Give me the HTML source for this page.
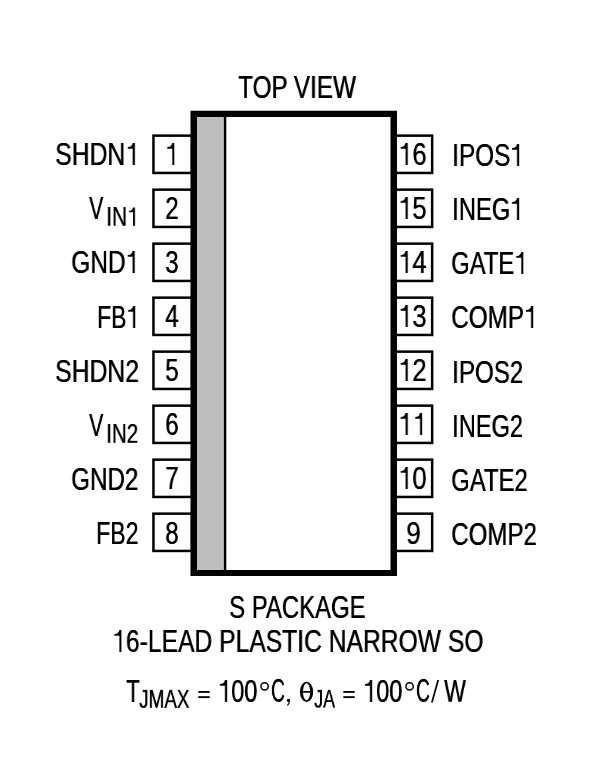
<!DOCTYPE html>
<html><head><meta charset="utf-8"><style>
html,body{margin:0;padding:0;background:#fff;width:602px;height:767px;overflow:hidden;position:relative}
.t{position:absolute;font-family:"Liberation Sans",sans-serif;line-height:1;white-space:nowrap;color:#000;transform-origin:0 0;will-change:transform;text-shadow:0.55px 0 0 #000}
svg.bg{position:absolute;left:0;top:0}
.one{position:relative;color:transparent;text-shadow:none}.one svg{position:absolute;left:0;top:0;width:0.556em;height:1.117em;fill:#000;overflow:visible;transform-origin:61.15% 0;transform:scaleX(var(--k,1))}
</style></head><body>
<svg class="bg" width="602" height="767" viewBox="0 0 602 767">
<rect x="197" y="117" width="27" height="453" fill="#bebebe"/>
<rect x="223.9" y="117" width="2.4" height="453" fill="#000"/>
<path fill="#000" fill-rule="evenodd" d="M190.5,110.8 H397 V576.1 H190.5 Z M197,117 V570 H390.5 V117 Z"/>
<rect x="153.45" y="135.65" width="38.55" height="37.30" fill="none" stroke="#000" stroke-width="2.5"/>
<rect x="395.00" y="135.65" width="37.15" height="37.30" fill="none" stroke="#000" stroke-width="2.5"/>
<rect x="153.45" y="189.65" width="38.55" height="37.30" fill="none" stroke="#000" stroke-width="2.5"/>
<rect x="395.00" y="189.65" width="37.15" height="37.30" fill="none" stroke="#000" stroke-width="2.5"/>
<rect x="153.45" y="243.65" width="38.55" height="37.30" fill="none" stroke="#000" stroke-width="2.5"/>
<rect x="395.00" y="243.65" width="37.15" height="37.30" fill="none" stroke="#000" stroke-width="2.5"/>
<rect x="153.45" y="297.65" width="38.55" height="37.30" fill="none" stroke="#000" stroke-width="2.5"/>
<rect x="395.00" y="297.65" width="37.15" height="37.30" fill="none" stroke="#000" stroke-width="2.5"/>
<rect x="153.45" y="351.65" width="38.55" height="37.30" fill="none" stroke="#000" stroke-width="2.5"/>
<rect x="395.00" y="351.65" width="37.15" height="37.30" fill="none" stroke="#000" stroke-width="2.5"/>
<rect x="153.45" y="405.65" width="38.55" height="37.30" fill="none" stroke="#000" stroke-width="2.5"/>
<rect x="395.00" y="405.65" width="37.15" height="37.30" fill="none" stroke="#000" stroke-width="2.5"/>
<rect x="153.45" y="459.65" width="38.55" height="37.30" fill="none" stroke="#000" stroke-width="2.5"/>
<rect x="395.00" y="459.65" width="37.15" height="37.30" fill="none" stroke="#000" stroke-width="2.5"/>
<rect x="153.45" y="513.65" width="38.55" height="37.30" fill="none" stroke="#000" stroke-width="2.5"/>
<rect x="395.00" y="513.65" width="37.15" height="37.30" fill="none" stroke="#000" stroke-width="2.5"/>
<circle cx="264.6" cy="686.3" r="3.65" fill="none" stroke="#000" stroke-width="1.5"/>
<circle cx="409.6" cy="686.3" r="3.65" fill="none" stroke="#000" stroke-width="1.5"/>
<rect x="198.3" y="691" width="11.4" height="1.85" fill="#000"/>
<rect x="198.3" y="696.2" width="11.4" height="1.85" fill="#000"/>
<rect x="343.3" y="691" width="11.4" height="1.85" fill="#000"/>
<rect x="343.3" y="696.2" width="11.4" height="1.85" fill="#000"/>
<path d="M437.3,680 L439.1,680 L432.8,702.5 L431.0,702.5 Z" fill="#000"/>
<path d="M287.1,699 L289.9,699 L289.9,701.8 Q289.7,704.4 287.7,705.9 L287.0,705.1 Q288.5,703.8 288.7,701.8 L287.1,701.8 Z" fill="#000"/>
<path fill-rule="evenodd" fill="#000" d="M306.55,681.65 A6.65,10.18 0 1,1 306.55,702.01 A6.65,10.18 0 1,1 306.55,681.65 Z M306.55,683.35 A3.6,8.48 0 1,0 306.55,700.31 A3.6,8.48 0 1,0 306.55,683.35 Z"/>
<rect x="302.9" y="691" width="7.3" height="1.7" fill="#000"/>
</svg>
<div class="t" style="left:54.80px;top:137.70px;font-size:32px;transform:scale(0.7733,1.0000);--k:0.9828">SHDN<span class="one">1<svg viewBox="0 0 556 1117" preserveAspectRatio="none"><path d="M95,341 L165,338 Q265,320 296,218 L384,218 L384,905 L296,905 L296,397 L95,397 Z"/></svg></span></div>
<div class="t" style="left:70.92px;top:245.70px;font-size:32px;transform:scale(0.7654,1.0000);--k:0.9929">GND<span class="one">1<svg viewBox="0 0 556 1117" preserveAspectRatio="none"><path d="M95,341 L165,338 Q265,320 296,218 L384,218 L384,905 L296,905 L296,397 L95,397 Z"/></svg></span></div>
<div class="t" style="left:96.61px;top:300.70px;font-size:32px;transform:scale(0.7140,1.0000);--k:1.0644">FB<span class="one">1<svg viewBox="0 0 556 1117" preserveAspectRatio="none"><path d="M95,341 L165,338 Q265,320 296,218 L384,218 L384,905 L296,905 L296,397 L95,397 Z"/></svg></span></div>
<div class="t" style="left:54.81px;top:354.70px;font-size:32px;transform:scale(0.7724,1.0000);--k:0.9840">SHDN2</div>
<div class="t" style="left:71.04px;top:462.60px;font-size:32px;transform:scale(0.7547,1.0000);--k:1.0071">GND2</div>
<div class="t" style="left:95.89px;top:516.70px;font-size:32px;transform:scale(0.7200,1.0000);--k:1.0556">FB2</div>
<div class="t" style="left:89.05px;top:191.70px;font-size:32px;transform:scale(0.6636,1.0000);--k:1.1452">V</div>
<div class="t" style="left:106.20px;top:204.03px;font-size:27px;transform:scale(0.7743,0.9895);--k:0.9815">IN<span class="one">1<svg viewBox="0 0 556 1117" preserveAspectRatio="none"><path transform="translate(0,-16.1)" d="M95,341 L165,338 Q265,320 296,218 L384,218 L384,905 L296,905 L296,397 L95,397 Z"/></svg></span></div>
<div class="t" style="left:89.05px;top:408.70px;font-size:32px;transform:scale(0.6636,1.0000);--k:1.1452">V</div>
<div class="t" style="left:106.23px;top:421.03px;font-size:27px;transform:scale(0.7615,0.9895);--k:0.9980">IN2</div>
<div class="t" style="left:451.57px;top:138.55px;font-size:32px;transform:scale(0.7600,1.0000);--k:1.0000">IPOS<span class="one">1<svg viewBox="0 0 556 1117" preserveAspectRatio="none"><path d="M95,341 L165,338 Q265,320 296,218 L384,218 L384,905 L296,905 L296,397 L95,397 Z"/></svg></span></div>
<div class="t" style="left:451.92px;top:192.55px;font-size:32px;transform:scale(0.7425,1.0000);--k:1.0235">INEG<span class="one">1<svg viewBox="0 0 556 1117" preserveAspectRatio="none"><path d="M95,341 L165,338 Q265,320 296,218 L384,218 L384,905 L296,905 L296,397 L95,397 Z"/></svg></span></div>
<div class="t" style="left:451.16px;top:246.55px;font-size:32px;transform:scale(0.7432,1.0000);--k:1.0227">GATE<span class="one">1<svg viewBox="0 0 556 1117" preserveAspectRatio="none"><path d="M95,341 L165,338 Q265,320 296,218 L384,218 L384,905 L296,905 L296,397 L95,397 Z"/></svg></span></div>
<div class="t" style="left:451.13px;top:300.50px;font-size:32px;transform:scale(0.7585,1.0000);--k:1.0020">COMP<span class="one">1<svg viewBox="0 0 556 1117" preserveAspectRatio="none"><path d="M95,341 L165,338 Q265,320 296,218 L384,218 L384,905 L296,905 L296,397 L95,397 Z"/></svg></span></div>
<div class="t" style="left:451.59px;top:355.55px;font-size:32px;transform:scale(0.7533,1.0000);--k:1.0088">IPOS2</div>
<div class="t" style="left:451.64px;top:409.55px;font-size:32px;transform:scale(0.7370,1.0000);--k:1.0313">INEG2</div>
<div class="t" style="left:451.16px;top:463.50px;font-size:32px;transform:scale(0.7465,1.0000);--k:1.0181">GATE2</div>
<div class="t" style="left:451.34px;top:517.55px;font-size:32px;transform:scale(0.7532,1.0000);--k:1.0091">COMP2</div>
<div class="t" style="left:237.89px;top:70.85px;font-size:32px;transform:scale(0.7581,1.0000);--k:1.0026">TOP VIEW</div>
<div class="t" style="left:229.16px;top:590.70px;font-size:32px;transform:scale(0.7467,1.0000);--k:1.0179">S PACKAGE</div>
<div class="t" style="left:111.54px;top:624.70px;font-size:32px;transform:scale(0.7705,1.0000);--k:0.9864"><span class="one">1<svg viewBox="0 0 556 1117" preserveAspectRatio="none"><path d="M95,341 L165,338 Q265,320 296,218 L384,218 L384,905 L296,905 L296,397 L95,397 Z"/></svg></span>6-LEAD PLASTIC NARROW SO</div>
<div class="t" style="left:125.85px;top:675.00px;font-size:32px;transform:scale(0.7000,1.0000);--k:1.0857">T</div>
<div class="t" style="left:139.35px;top:686.96px;font-size:27px;transform:scale(0.6986,0.9474);--k:1.0879">JMAX</div>
<div class="t" style="left:218.05px;top:675.18px;font-size:32px;transform:scale(0.7340,1.0045);--k:1.0354"><span class="one">1<svg viewBox="0 0 556 1117" preserveAspectRatio="none"><path d="M95,341 L165,338 Q265,320 296,218 L384,218 L384,905 L296,905 L296,397 L95,397 Z"/></svg></span>00</div>
<div class="t" style="left:270.76px;top:674.30px;font-size:32px;transform:scale(0.5950,1.0409);--k:1.2773">C</div>
<div class="t" style="left:314.29px;top:687.29px;font-size:27px;transform:scale(0.6613,0.9368);--k:1.1493">JA</div>
<div class="t" style="left:363.05px;top:675.18px;font-size:32px;transform:scale(0.7340,1.0045);--k:1.0354"><span class="one">1<svg viewBox="0 0 556 1117" preserveAspectRatio="none"><path d="M95,341 L165,338 Q265,320 296,218 L384,218 L384,905 L296,905 L296,397 L95,397 Z"/></svg></span>00</div>
<div class="t" style="left:415.76px;top:674.30px;font-size:32px;transform:scale(0.5950,1.0409);--k:1.2773">C</div>
<div class="t" style="left:443.55px;top:675.25px;font-size:32px;transform:scale(0.7167,0.9909);--k:1.0605">W</div>
<div class="t" style="left:164.73px;top:137.50px;font-size:32px;transform:scale(0.7600,1.0000);--k:1.0000"><span class="one">1<svg viewBox="0 0 556 1117" preserveAspectRatio="none"><path d="M95,341 L165,338 Q265,320 296,218 L384,218 L384,905 L296,905 L296,397 L95,397 Z"/></svg></span></div>
<div class="t" style="left:164.73px;top:191.50px;font-size:32px;transform:scale(0.7600,1.0000);--k:1.0000">2</div>
<div class="t" style="left:164.73px;top:245.50px;font-size:32px;transform:scale(0.7600,1.0000);--k:1.0000">3</div>
<div class="t" style="left:164.73px;top:299.50px;font-size:32px;transform:scale(0.7600,1.0000);--k:1.0000">4</div>
<div class="t" style="left:164.73px;top:353.50px;font-size:32px;transform:scale(0.7600,1.0000);--k:1.0000">5</div>
<div class="t" style="left:164.73px;top:407.50px;font-size:32px;transform:scale(0.7600,1.0000);--k:1.0000">6</div>
<div class="t" style="left:164.73px;top:461.50px;font-size:32px;transform:scale(0.7600,1.0000);--k:1.0000">7</div>
<div class="t" style="left:164.73px;top:516.50px;font-size:32px;transform:scale(0.7600,1.0000);--k:1.0000">8</div>
<div class="t" style="left:397.85px;top:137.50px;font-size:32px;transform:scale(0.8000,1.0000);--k:0.9500"><span class="one">1<svg viewBox="0 0 556 1117" preserveAspectRatio="none"><path d="M95,341 L165,338 Q265,320 296,218 L384,218 L384,905 L296,905 L296,397 L95,397 Z"/></svg></span>6</div>
<div class="t" style="left:397.85px;top:191.50px;font-size:32px;transform:scale(0.8000,1.0000);--k:0.9500"><span class="one">1<svg viewBox="0 0 556 1117" preserveAspectRatio="none"><path d="M95,341 L165,338 Q265,320 296,218 L384,218 L384,905 L296,905 L296,397 L95,397 Z"/></svg></span>5</div>
<div class="t" style="left:397.85px;top:245.50px;font-size:32px;transform:scale(0.8000,1.0000);--k:0.9500"><span class="one">1<svg viewBox="0 0 556 1117" preserveAspectRatio="none"><path d="M95,341 L165,338 Q265,320 296,218 L384,218 L384,905 L296,905 L296,397 L95,397 Z"/></svg></span>4</div>
<div class="t" style="left:397.85px;top:299.50px;font-size:32px;transform:scale(0.8000,1.0000);--k:0.9500"><span class="one">1<svg viewBox="0 0 556 1117" preserveAspectRatio="none"><path d="M95,341 L165,338 Q265,320 296,218 L384,218 L384,905 L296,905 L296,397 L95,397 Z"/></svg></span>3</div>
<div class="t" style="left:397.85px;top:353.50px;font-size:32px;transform:scale(0.8000,1.0000);--k:0.9500"><span class="one">1<svg viewBox="0 0 556 1117" preserveAspectRatio="none"><path d="M95,341 L165,338 Q265,320 296,218 L384,218 L384,905 L296,905 L296,397 L95,397 Z"/></svg></span>2</div>
<div class="t" style="left:397.85px;top:407.50px;font-size:32px;transform:scale(0.8000,1.0000);--k:0.9500"><span class="one">1<svg viewBox="0 0 556 1117" preserveAspectRatio="none"><path d="M95,341 L165,338 Q265,320 296,218 L384,218 L384,905 L296,905 L296,397 L95,397 Z"/></svg></span><span class="one">1<svg viewBox="0 0 556 1117" preserveAspectRatio="none"><path d="M95,341 L165,338 Q265,320 296,218 L384,218 L384,905 L296,905 L296,397 L95,397 Z"/></svg></span></div>
<div class="t" style="left:397.85px;top:461.50px;font-size:32px;transform:scale(0.8000,1.0000);--k:0.9500"><span class="one">1<svg viewBox="0 0 556 1117" preserveAspectRatio="none"><path d="M95,341 L165,338 Q265,320 296,218 L384,218 L384,905 L296,905 L296,397 L95,397 Z"/></svg></span>0</div>
<div class="t" style="left:405.91px;top:516.50px;font-size:32px;transform:scale(0.8200,1.0000);--k:0.9268">9</div>
</body></html>
